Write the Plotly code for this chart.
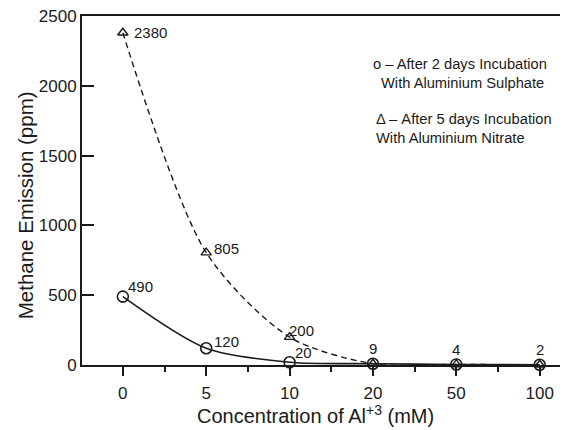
import plotly.graph_objects as go

concentrations = ["0", "5", "10", "20", "50", "100"]
sulphate_2days = [490, 120, 20, 9, 4, 2]
nitrate_5days = [2380, 805, 200, 9, 4, 2]
sulphate_labels = ["490", "120", "20", "9", "4", "2"]
nitrate_labels = ["2380", "805", "200", "", "", ""]
y_ticks = [0, 500, 1000, 1500, 2000, 2500]

pos = list(range(len(concentrations)))
FONT = "Liberation Sans"
INK = "#1a1a1a"

fig = go.Figure()
fig.add_trace(go.Scatter(
    x=pos, y=nitrate_5days, mode="lines+markers",
    line=dict(color=INK, width=1.4, dash="6px,4px", shape="spline", smoothing=0.8),
    marker=dict(symbol="triangle-up-open", size=9, color=INK, line=dict(width=1.4)),
    cliponaxis=False, showlegend=False))
fig.add_trace(go.Scatter(
    x=pos, y=sulphate_2days, mode="lines+markers",
    line=dict(color=INK, width=1.6, shape="spline", smoothing=0.8),
    marker=dict(symbol="circle-open", size=11, color=INK, line=dict(width=1.6)),
    cliponaxis=False, showlegend=False))

lab_font = dict(family=FONT, size=15, color=INK)
s_off = [(3, 10), (6, 7), (3, 10), (0, 15), (0, 15), (0, 15)]
for i, t in enumerate(sulphate_labels):
    dx, dy = s_off[i]
    fig.add_annotation(x=pos[i], y=sulphate_2days[i], text=t, showarrow=False,
                       xanchor="left" if i < 3 else "center", yanchor="middle",
                       xshift=dx, yshift=dy, font=lab_font)
n_off = [(9, 0), (6, 4), (-3, 7)]
for i, t in enumerate(nitrate_labels):
    if t:
        dx, dy = n_off[i]
        fig.add_annotation(x=pos[i], y=nitrate_5days[i], text=t, showarrow=False,
                           xanchor="left", yanchor="middle",
                           xshift=dx, yshift=dy, font=lab_font)

leg_font = dict(family=FONT, size=14.7, color=INK)
legend_lines = [
    ("o – After 2 days Incubation", 0.595, 0.862),
    ("With Aluminium Sulphate", 0.611, 0.808),
    ("Δ – After 5 days Incubation", 0.601, 0.705),
    ("With Aluminium Nitrate", 0.601, 0.651),
]
for txt, lx, ly in legend_lines:
    fig.add_annotation(xref="paper", yref="paper", x=lx, y=ly, xanchor="left", yanchor="middle",
                       text=txt, showarrow=False, font=leg_font)

fig.add_annotation(xref="paper", yref="paper", x=0.481, y=-0.143, xanchor="center", yanchor="middle",
                   text="Concentration of Al<sup>+3</sup> (mM)", showarrow=False,
                   font=dict(family=FONT, size=20, color=INK))
fig.add_annotation(xref="paper", yref="paper", x=-0.117, y=0.458, xanchor="center", yanchor="middle",
                   text="Methane Emission (ppm)", showarrow=False, textangle=-90,
                   font=dict(family=FONT, size=20.5, color=INK))

fig.update_layout(
    width=560, height=422,
    margin=dict(l=74, r=0, t=8, b=65),
    paper_bgcolor="white", plot_bgcolor="white",
    font=dict(family=FONT, size=17, color=INK),
    xaxis=dict(range=[-0.49, 5.34], tickvals=pos, ticktext=concentrations,
               automargin=False, ticklabeloverflow="allow",
               showline=True, linecolor=INK, linewidth=2, mirror=True,
               ticks="outside", ticklen=9, tickwidth=1.5, tickcolor=INK,
               ticklabelstandoff=3,
               minor=dict(tickvals=[0.5, 1.5, 2.5, 3.5, 4.5], ticks="outside",
                          ticklen=5, tickwidth=1.5, tickcolor=INK),
               showgrid=False, zeroline=False,
               tickfont=dict(family=FONT, size=17, color=INK)),
    yaxis=dict(range=[0, 2500], tickvals=y_ticks,
               automargin=False, ticklabeloverflow="allow",
               showline=True, linecolor=INK, linewidth=2,
               ticks="inside", ticklen=12, tickwidth=1.5, tickcolor=INK,
               ticklabelstandoff=0,
               showgrid=False, zeroline=False,
               tickfont=dict(family=FONT, size=17, color=INK)),
)

fig.write_html("out.html")
